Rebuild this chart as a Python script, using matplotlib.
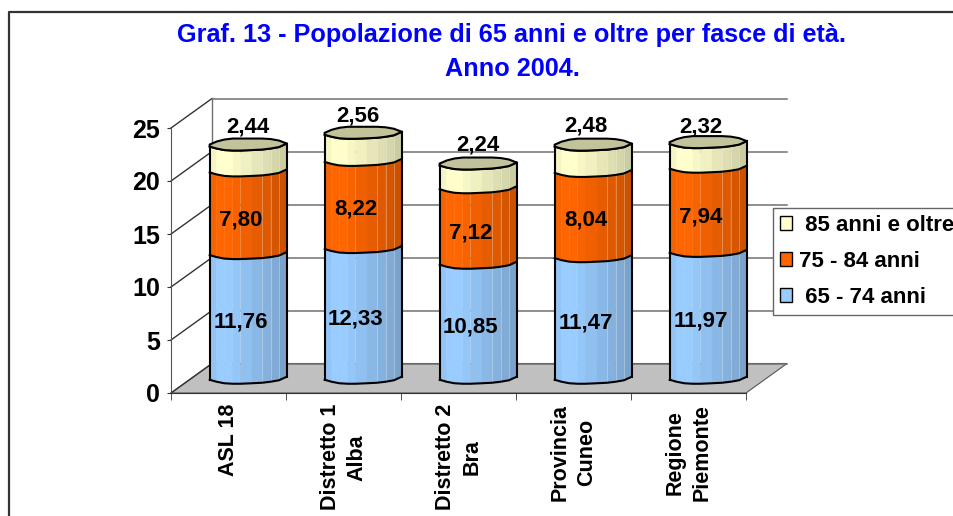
import numpy as np
import matplotlib
matplotlib.use('Agg')
import matplotlib.pyplot as plt
from matplotlib.patches import Patch

plt.rcParams['font.family'] = ['Liberation Sans', 'DejaVu Sans']
plt.rcParams['font.weight'] = 'bold'

categories = ['ASL 18', 'Distretto 1\nAlba', 'Distretto 2\nBra', 'Provincia\nCuneo', 'Regione\nPiemonte']
age_65_74 = [11.76, 12.33, 10.85, 11.47, 11.97]
age_75_84 = [7.80, 8.22, 7.12, 8.04, 7.94]
age_85_up = [2.44, 2.56, 2.24, 2.48, 2.32]
labels_65 = ['11,76', '12,33', '10,85', '11,47', '11,97']
labels_75 = ['7,80', '8,22', '7,12', '8,04', '7,94']
labels_85 = ['2,44', '2,56', '2,24', '2,48', '2,32']
y_ticks = [0, 5, 10, 15, 20, 25]

BLUE = '#99CCFF'
ORANGE = '#FF6600'
CREAM = '#FFFFCC'

# pixel -> data factors for the front plane of the fake 3d box
PX_X = 5 / 575
PX_Y = 25 / 265
DEPTH_X = 41 * PX_X
DEPTH_Y = 29.5 * PX_Y
BAR_W = 77 * PX_X

# wobbly ellipse, same shape on every bar like the original
U = np.array([0, .09, .19, .30, .40, .55, .68, .79, .90, 1])
SHADE = np.array([.96, 1, 1, .97, .94, .9, .87, .84, .8])
FRONT = np.array([1.5, 3.5, 5, 5.5, 5.5, 5, 4.5, 3.5, 2, -1.5])
BACK = np.array([-.5, -3.5, -5.5, -6.5, -6.5, -6.5, -6.5, -6, -4.5, -1.5])

# small label nudges in pixels, the original labels sit a bit off centre
TOP_NUDGE_X = [0, -5, 0, -7, -7]
TOP_NUDGE_Y = [-1, -2, 0, 0, -3]
MID_NUDGE_Y = [3, 0, 2, 1, 3]


def draw_bar(ax, i, segments):
    left = i + DEPTH_X / 2 - BAR_W / 2 - 0.8 * PX_X
    xs = left + U * BAR_W
    base = DEPTH_Y / 2
    front = -FRONT * PX_Y
    bottom = base
    ax.plot(xs, bottom + front, color='black', lw=1.5, zorder=5, clip_on=False)
    for value, color in segments:
        top = bottom + value
        rgb = np.array(matplotlib.colors.to_rgb(color))
        for k in range(len(U) - 1):
            ax.fill([xs[k], xs[k + 1], xs[k + 1], xs[k]],
                    [bottom + front[k], bottom + front[k + 1], top + front[k + 1], top + front[k]],
                    color=rgb * SHADE[k], lw=0.3, zorder=4, clip_on=False)
        for k in [6, 7, 8]:
            ax.plot([xs[k], xs[k]], [bottom + front[k], top + front[k]], color='white', alpha=0.3, lw=0.7,
                    zorder=4.5, clip_on=False)
        ax.plot(xs, top + front, color='black', lw=1.5, zorder=5, clip_on=False)
        bottom = top
    # lid
    cap_x = np.concatenate([xs, xs[::-1]])
    cap_y = np.concatenate([bottom + front, (bottom - BACK * PX_Y)[::-1]])
    ax.fill(cap_x, cap_y, facecolor=np.array(matplotlib.colors.to_rgb(CREAM)) * .76,
            edgecolor='black', lw=1.5, zorder=6, clip_on=False)
    ax.plot([xs[0], xs[0]], [base + front[0], bottom + front[0]], color='black', lw=1.5, zorder=5, clip_on=False)
    ax.plot([xs[-1], xs[-1]], [base + front[-1], bottom + front[-1]], color='black', lw=1.5, zorder=5, clip_on=False)


fig = plt.figure(figsize=(9.54, 5.16), dpi=100)
ax = fig.add_axes([171 / 954, (516 - 393) / 516, 575 / 954, 265 / 516])
ax.set_xlim(-0.5, 4.5)
ax.set_ylim(0, 25)
ax.patch.set_visible(False)

# outer frame of the chart area, runs off the right and bottom edge
fig.add_artist(plt.Line2D([9 / 954, 9 / 954, 1], [0, 1 - 12 / 516, 1 - 12 / 516], color='#333333', lw=1.6))

# floor
ax.fill([-0.5, 4.5, 4.5 + DEPTH_X, -0.5 + DEPTH_X], [0, 0, DEPTH_Y, DEPTH_Y],
        facecolor='#C0C0C0', edgecolor='#555555', lw=0.8, zorder=1, clip_on=False)

# walls
for v in y_ticks:
    ax.plot([-0.5, -0.5 + DEPTH_X], [v, v + DEPTH_Y], color='#333333', lw=1, zorder=2, clip_on=False)
    ax.plot([-0.5 + DEPTH_X, 4.5 + DEPTH_X], [v + DEPTH_Y, v + DEPTH_Y], color='#707070', lw=1.1, zorder=2, clip_on=False)
ax.plot([-0.5 + DEPTH_X, -0.5 + DEPTH_X], [DEPTH_Y, 25 + DEPTH_Y], color='#707070', lw=1, zorder=2, clip_on=False)

for i in range(len(categories)):
    draw_bar(ax, i, [(age_65_74[i], BLUE), (age_75_84[i], ORANGE), (age_85_up[i], CREAM)])
    cx = i + DEPTH_X / 2
    base = DEPTH_Y / 2
    ax.text(cx - 8.5 * PX_X, base + age_65_74[i] / 2 - 6 * PX_Y, labels_65[i], ha='center', va='center',
            fontsize=16, zorder=7)
    ax.text(cx - 8 * PX_X, base + age_65_74[i] + age_75_84[i] / 2 - (5 + MID_NUDGE_Y[i]) * PX_Y, labels_75[i],
            ha='center', va='center', fontsize=16, zorder=7)
    ax.text(cx + (TOP_NUDGE_X[i] - 1) * PX_X, base + age_65_74[i] + age_75_84[i] + age_85_up[i] + (19 + TOP_NUDGE_Y[i]) * PX_Y,
            labels_85[i], ha='center', va='center', fontsize=16, zorder=7)

ax.spines['top'].set_visible(False)
ax.spines['right'].set_visible(False)
ax.spines['left'].set_color('#555555')
ax.spines['bottom'].set_color('#333333')
ax.spines['left'].set_zorder(3)
ax.spines['bottom'].set_zorder(3)

ax.set_yticks(y_ticks)
ax.tick_params(axis='y', labelsize=18, length=3, color='#333333', pad=5)
ax.set_xticks(range(len(categories)))
ax.set_xticklabels(categories, rotation=90, fontsize=15.5, ha='center', va='top', linespacing=1.35, multialignment='center')
ax.tick_params(axis='x', length=0, pad=8)
ax.set_xticks(np.arange(-0.5, 5, 1), minor=True)
ax.tick_params(axis='x', which='minor', length=5, color='#333333')

fig.text(512 / 954, 1 - 35 / 516, 'Graf. 13 - Popolazione di 65 anni e oltre per fasce di età.', color='#0000FF',
         fontsize=18.2, ha='center', va='center')
fig.text(512 / 954, 1 - 69 / 516, 'Anno 2004.', color='#0000FF', fontsize=18.2, ha='center', va='center')

handles = [Patch(facecolor=CREAM, edgecolor='black'), Patch(facecolor=ORANGE, edgecolor='black'),
           Patch(facecolor=BLUE, edgecolor='black')]
leg = fig.legend(handles, [' 85 anni e oltre', '75 - 84 anni', ' 65 - 74 anni'], loc='upper left',
                 bbox_to_anchor=(773 / 954, 1 - 208 / 516), bbox_transform=fig.transFigure, borderaxespad=0,
                 fontsize=16, fancybox=False, framealpha=1, edgecolor='#666666', handlelength=0.55,
                 handleheight=0.55, handletextpad=0.3, labelspacing=0.68, borderpad=0.3)
leg.set_zorder(10)

fig.savefig('out.png', dpi=100)
